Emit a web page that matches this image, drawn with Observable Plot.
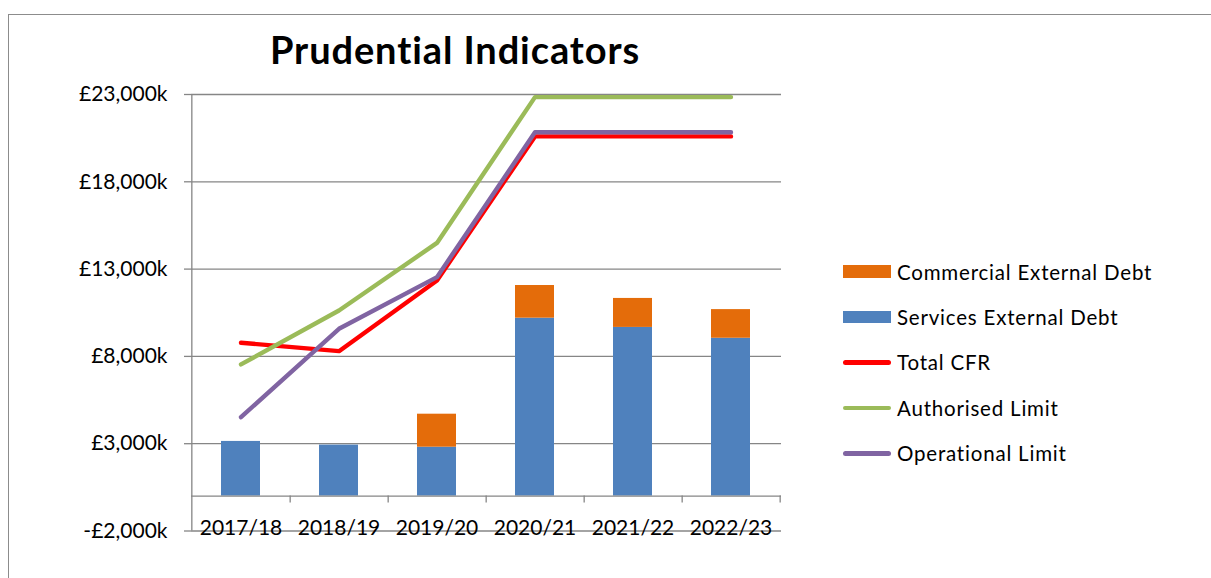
<!DOCTYPE html>
<html>
<head>
<meta charset="utf-8">
<script src="https://cdn.jsdelivr.net/npm/d3@7"></script>
<script src="https://cdn.jsdelivr.net/npm/@observablehq/plot@0.6"></script>
<style>
  html, body { margin: 0; padding: 0; background: #fff; overflow: hidden; }
  body { width: 1211px; height: 578px; position: relative; font-family: Lato, "Liberation Sans", sans-serif; }
  #frame { position: absolute; left: 8px; top: 14px; width: 1300px; height: 700px; border: 1px solid #8c8c8c; box-sizing: border-box; }
  #chart { position: absolute; left: 0; top: 0; }
  #title { position: absolute; left: 255px; width: 400px; top: 27px; text-align: center; font-weight: bold; font-size: 38px; letter-spacing: 0.9px; line-height: 44px; color: #000; white-space: nowrap; }
  #legend { position: absolute; left: 843px; top: 249px; }
  .item { display: flex; align-items: center; height: 45.4px; }
  .sw { width: 48px; margin-right: 6px; flex: none; }
  .lab { font-size: 20.5px; letter-spacing: 0.8px; color: #000; white-space: nowrap; }
</style>
</head>
<body>
<div id="frame"></div>
<div id="chart"></div>
<div id="title">Prudential Indicators</div>
<div id="legend"></div>
<script>
// ---- data ----
const years = ["2017/18", "2018/19", "2019/20", "2020/21", "2021/22", "2022/23"];
const servicesDebt   = [3130, 2920, 2800, 10190, 9660, 9040];
const commercialDebt = [0, 0, 1890, 1870, 1660, 1640];
const totalCFR       = [8780, 8300, 12350, 20600, 20600, 20600];
const authorisedLimit  = [7540, 10630, 14500, 22850, 22850, 22850];
const operationalLimit = [4520, 9580, 12540, 20840, 20840, 20840];
const yTicks = [-2000, 3000, 8000, 13000, 18000, 23000];

const seriesNames = ["Commercial External Debt", "Services External Debt", "Total CFR", "Authorised Limit", "Operational Limit"];
const seriesColors = ["#E46C0A", "#4F81BD", "#FF0000", "#9BBB59", "#8064A2"];

// ---- tables ----
const barData = [];
years.forEach((y, i) => {
  barData.push({year: y, series: "Services External Debt", value: servicesDebt[i]});
  barData.push({year: y, series: "Commercial External Debt", value: commercialDebt[i]});
});
const lineSeries = [["Total CFR", totalCFR], ["Authorised Limit", authorisedLimit], ["Operational Limit", operationalLimit]];
const lineData = [];
lineSeries.forEach(([name, vals]) => years.forEach((y, i) => lineData.push({year: y, series: name, value: vals[i]})));

// ---- layout ----
const W = 1211, H = 578;
const mL = 191, mR = 430, mT = 94, mB = 47.5;
const step = (W - mL - mR) / years.length;
const grid = "#868686";
const fmt = d => (d < 0 ? "-" : "") + "£" + d3.format(",")(Math.abs(d)) + "k";

const chart = Plot.plot({
  width: W, height: H,
  marginLeft: mL, marginRight: mR, marginTop: mT, marginBottom: mB,
  style: {fontFamily: 'Lato, "Liberation Sans", sans-serif', fontSize: "21px", color: "#000", background: "transparent", overflow: "visible"},
  x: {domain: years, paddingInner: 0.6, paddingOuter: 0.3, axis: null},
  y: {domain: [-2000, 23000], axis: null},
  color: {domain: seriesNames, range: seriesColors},
  marks: [
    Plot.ruleY(yTicks, {stroke: grid, strokeWidth: 1.3}),
    Plot.axisY({ticks: yTicks, tickFormat: fmt, tickSize: 7, tickPadding: 17, stroke: grid, strokeWidth: 1.3, fill: "#000", fontSize: 21, label: null, style: "letter-spacing:0.5px"}),
    Plot.barY(barData, {x: "year", y: "value", fill: "series", order: ["Services External Debt", "Commercial External Debt"]}),
    Plot.ruleY([0], {stroke: grid, strokeWidth: 1.3}),
    Plot.ruleX([years[0]], {x: d => d, dx: -step / 2, y1: -2000, y2: 23000, stroke: grid, strokeWidth: 1.3}),
    Plot.ruleX(years, {x: d => d, dx: step / 2, y1: 0, y2: -400, stroke: grid, strokeWidth: 1.3}),
    Plot.text(years, {x: d => d, y: -2000, dy: -3, text: d => d, fontSize: 21, fill: "#000", lineAnchor: "middle", textAnchor: "middle"}),
    Plot.line(lineData, {x: "year", y: "value", z: "series", stroke: "series", strokeWidth: 4.4, strokeLinecap: "round", strokeLinejoin: "round"})
  ]
});
document.getElementById("chart").appendChild(chart);

// ---- legend ----
const legend = document.getElementById("legend");
seriesNames.forEach((name, i) => {
  const item = document.createElement("div");
  item.className = "item";
  const sw = document.createElement("div");
  sw.className = "sw";
  sw.style.background = seriesColors[i];
  if (i < 2) { sw.style.height = "12.5px"; }
  else { sw.style.height = "4.5px"; sw.style.borderRadius = "3px"; }
  const lab = document.createElement("span");
  lab.className = "lab";
  lab.textContent = name;
  item.appendChild(sw); item.appendChild(lab);
  legend.appendChild(item);
});
</script>
</body>
</html>
